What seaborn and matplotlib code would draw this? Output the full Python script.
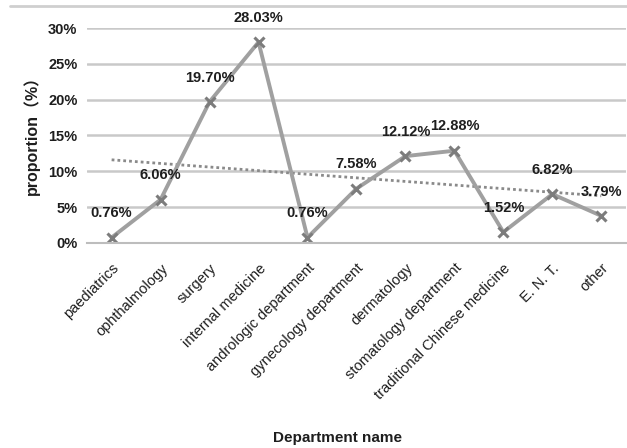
import matplotlib
matplotlib.use("Agg")
import matplotlib.pyplot as plt
import seaborn as sns
import numpy as np
import pandas as pd

departments = ["paediatrics", "ophthalmology", "surgery", "internal medicine",
               "andrologic department", "gynecology department", "dermatology",
               "stomatology department", "traditional Chinese medicine", "E. N. T.", "other"]
proportions = [0.76, 6.06, 19.70, 28.03, 0.76, 7.58, 12.12, 12.88, 1.52, 6.82, 3.79]
y_ticks = [0, 5, 10, 15, 20, 25, 30]

sns.set_theme(style="white")
plt.rcParams["font.family"] = ["Liberation Sans", "DejaVu Sans", "Noto Sans CJK SC"]

df = pd.DataFrame({"x": np.arange(len(departments)), "dept": departments, "p": proportions})

fig = plt.figure(figsize=(6.27, 4.48), dpi=100)
ax = fig.add_axes([0.139, 0.4576, 0.859, 0.4799])

for t in y_ticks[1:]:
    ax.axhline(t, color="#c9c9c9", lw=1.8, zorder=0)

sns.regplot(data=df, x="x", y="p", ax=ax, ci=None, scatter=False, truncate=True,
            line_kws=dict(color="#8a8a8a", lw=2.0, ls=(0, (1, 1.1))))

sns.lineplot(data=df, x="x", y="p", ax=ax, color="#a0a0a0", lw=2.8,
             marker="x", markersize=7, markeredgewidth=2.2, markeredgecolor="#7c7c7c")

for xi, v in zip(df["x"], proportions):
    ax.annotate(f"{v:.2f}%", (xi, v), xytext=(0, 17.5), textcoords="offset points",
                ha="center", va="center", fontsize=10.5, fontweight="bold", color="#1e1e1e")

ax.set_xlim(-0.5, len(departments) - 0.5)
ax.set_ylim(0, 30)
ax.set_yticks(y_ticks)
ax.set_yticklabels([f"{t}%" for t in y_ticks], fontsize=10.5, fontweight="bold", color="#1e1e1e")
ax.set_xticks(df["x"])
ax.set_xticklabels(departments, rotation=45, ha="right", rotation_mode="anchor",
                   fontsize=10.5, color="#1e1e1e")
ax.set_xticks(np.arange(-0.5, len(departments), 1.0), minor=True)
ax.tick_params(axis="x", which="major", length=0, pad=13)
ax.tick_params(axis="x", which="minor", length=6, color="#bdbdbd", width=1.2, direction="out")
ax.tick_params(axis="y", length=0, pad=7)

for s in ["top", "right", "left"]:
    ax.spines[s].set_visible(False)
ax.spines["bottom"].set_color("#bdbdbd")
ax.spines["bottom"].set_linewidth(1.5)

ax.set_xlabel("Department name", fontsize=11, fontweight="bold", color="#1e1e1e", labelpad=0)
ax.xaxis.set_label_coords(0.465, -0.875)
ax.set_ylabel("proportion（%）", fontsize=11.5, fontweight="bold", color="#1e1e1e",
              family=["Liberation Sans", "Noto Sans CJK SC"])
ax.yaxis.set_label_coords(-0.088, 0.52)

fig.add_artist(plt.Line2D([0.016, 1.0], [1 - 6 / 448, 1 - 6 / 448], color="#cfcfcf", lw=2.0,
                          transform=fig.transFigure))

fig.savefig("out.png", dpi=100, facecolor="white")
